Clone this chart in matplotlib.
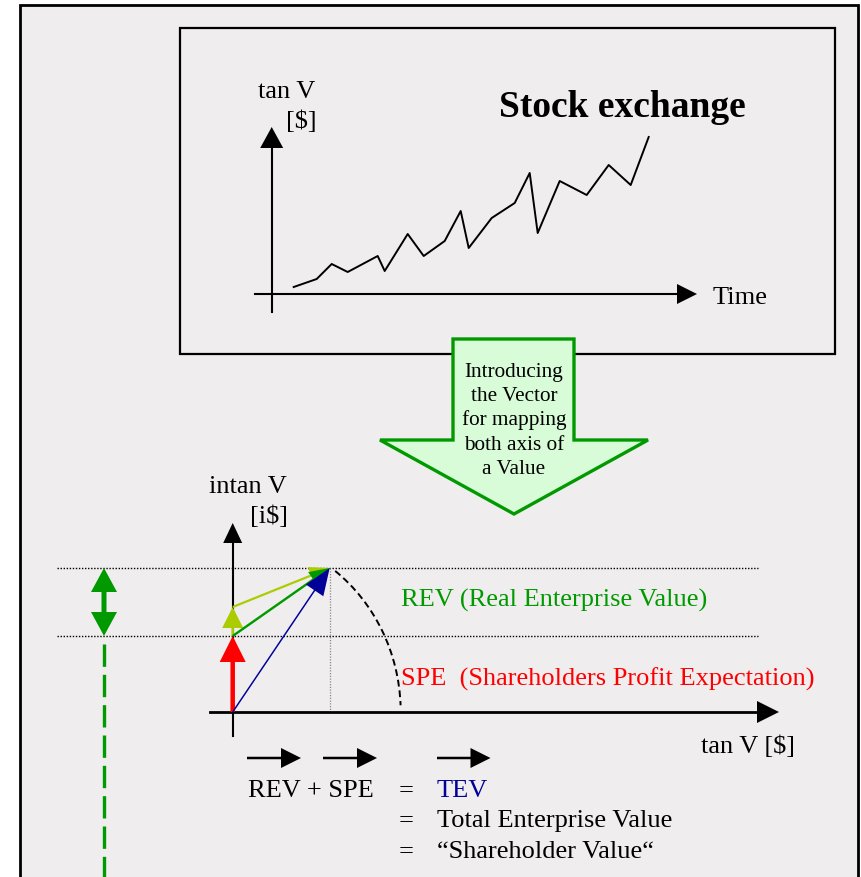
import matplotlib.pyplot as plt
from matplotlib.patches import Rectangle, Polygon, Arc

plt.rcParams['font.family'] = ['Liberation Serif', 'DejaVu Serif']

# stock exchange curve (time steps, tangible value in $)
stock_time = [22, 45, 60, 76, 106, 113, 136, 152, 173, 189, 197, 220, 243, 258, 266, 288, 315, 337, 359, 377]
stock_value = [7, 15, 30, 22, 38, 23, 60, 38, 53, 83, 46, 76, 91, 121, 61, 113, 99, 129, 109, 157]

# value vectors (tangible $, intangible i$)
spe_vec = (0, 76)
rev_up_vec = (0, 29)
rev_vec = (97, 68)
tev_vec = (97, 144)

arrow_text = ["Introducing", "the Vector", "for mapping", "both axis of", "a Value"]
eq_lines = [("REV + SPE", "TEV", "#000099"),
            ("", "Total Enterprise Value", "black"),
            ("", "\u201cShareholder Value\u201c", "black")]

BG = '#efedee'
GREEN = '#009900'
LIME = '#aacc00'
RED = '#ff0000'
BLUE = '#000099'


def arrow(ax, x0, y0, dx, dy, color, width, hw, hl, z=3):
    ax.arrow(x0, y0, dx, dy, width=width, head_width=hw, head_length=hl,
             length_includes_head=True, fc=color, ec='none', zorder=z)


def main():
    fig = plt.figure(figsize=(8.61, 8.77), dpi=100)
    ax = fig.add_axes([0, 0, 1, 1])
    ax.set_xlim(0, 861)
    ax.set_ylim(877, 0)
    ax.axis('off')

    # frames
    ax.add_patch(Rectangle((20, 5), 838, 900, fc=BG, ec='black', lw=2.0, zorder=0))
    ax.add_patch(Rectangle((180, 28), 655, 326, fc=BG, ec='black', lw=1.6, zorder=1))

    # --- upper chart: stock exchange
    ox, oy = 271.7, 294
    ax.plot([ox, ox], [312, 145], color='black', lw=1.5, zorder=2)
    ax.add_patch(Polygon([[ox - 11.5, 148], [ox + 11.5, 148], [ox, 127]], fc='black', ec='none', zorder=2))
    ax.plot([255, 680], [oy, oy], color='black', lw=1.5, zorder=2)
    ax.add_patch(Polygon([[677, oy - 10], [677, oy + 10], [697, oy]], fc='black', ec='none', zorder=2))
    ax.plot([ox + t for t in stock_time], [oy - v for v in stock_value], color='black', lw=1.4, zorder=3)
    ax.text(287, 98, "tan V", fontsize=19, ha='center', va='baseline')
    ax.text(301.5, 128, "[$]", fontsize=19, ha='center', va='baseline')
    ax.text(622, 117, "Stock exchange", fontsize=27, fontweight='bold', ha='center', va='baseline')
    ax.text(713, 304, "Time", fontsize=19, ha='left', va='baseline')

    # --- big green arrow
    big = [[453, 339], [574, 339], [574, 440], [648, 440], [514, 514], [380, 440], [453, 440]]
    ax.add_patch(Polygon(big, closed=True, fc='#d8fcd8', ec=GREEN, lw=2.4, joinstyle='miter', zorder=4))
    for i, line in enumerate(arrow_text):
        ax.text(514, 376.7 + i * 24.4, line, fontsize=15.3, ha='center', va='baseline', zorder=5)

    # --- lower chart: value vectors
    X0, Y0 = 232.7, 712
    top_y = Y0 - tev_vec[1]
    mid_y = Y0 - spe_vec[1]
    lime_y = mid_y - rev_up_vec[1]
    dot = (0, (1, 1.2))
    ax.plot([57, 758], [top_y, top_y], color='black', lw=1.0, ls=dot, zorder=1)
    ax.plot([57, 758], [mid_y, mid_y], color='black', lw=1.0, ls=dot, zorder=1)
    ax.plot([X0 + tev_vec[0]] * 2, [top_y, Y0], color='#888888', lw=0.9, ls=dot, zorder=1)

    # axes
    ax.plot([X0, X0], [736, 540], color='black', lw=1.5, zorder=2)
    ax.add_patch(Polygon([[X0 - 9.5, 543], [X0 + 9.5, 543], [X0, 523]], fc='black', ec='none', zorder=2))
    ax.plot([210, 760], [Y0, Y0], color='black', lw=2.0, zorder=2)
    ax.add_patch(Polygon([[757, Y0 - 11], [757, Y0 + 11], [779, Y0]], fc='black', ec='none', zorder=2))

    # dashed arc
    ax.add_patch(Arc((X0, Y0), 2 * 168, 2 * 178, theta1=-54, theta2=-2.3,
                     color='black', lw=1.4, ls=(0, (3.5, 2)), zorder=2))

    # vectors
    arrow(ax, X0, Y0, 0, -spe_vec[1], RED, 4.5, 26, 26, z=4)
    arrow(ax, X0, mid_y, 0, -rev_up_vec[1], LIME, 2.5, 21, 21, z=4)
    arrow(ax, X0, lime_y, rev_vec[0], top_y - lime_y, LIME, 2.2, 18, 20, z=5)
    arrow(ax, X0, mid_y, rev_vec[0], -rev_vec[1], GREEN, 2.4, 18, 20, z=6)
    arrow(ax, X0, Y0, tev_vec[0], -tev_vec[1], BLUE, 1.5, 21, 27, z=7)

    # green double arrow and dashed line
    cy = (top_y + mid_y) / 2
    arrow(ax, 104, cy, 0, top_y - cy, GREEN, 5, 26, 24, z=3)
    arrow(ax, 104, cy, 0, mid_y - cy, GREEN, 5, 26, 24, z=3)
    ax.plot([104, 104], [644, 880], color=GREEN, lw=2.4, ls=(0, (6.7, 2.4)), zorder=2)

    # labels
    ax.text(248, 493.3, "intan V", fontsize=19, ha='center', va='baseline')
    ax.text(269, 523, "[i$]", fontsize=19, ha='center', va='baseline')
    ax.text(401, 607, "REV (Real Enterprise Value)", fontsize=19, color=GREEN, ha='left', va='baseline')
    ax.text(401, 686, "SPE  (Shareholders Profit Expectation)", fontsize=19, color=RED, ha='left', va='baseline')
    ax.text(701, 753, "tan V [$]", fontsize=19, ha='left', va='baseline')

    # vector equation
    for x0, x1 in [(247, 301), (323, 377), (437, 490.5)]:
        arrow(ax, x0, 758, x1 - x0, 0, 'black', 2.5, 20, 20, z=3)
    for i, (left, right, col) in enumerate(eq_lines):
        yb = 796.7 + i * 30.8
        if left:
            ax.text(248, yb, left, fontsize=19, ha='left', va='baseline')
        ax.text(406, yb, "=", fontsize=19, ha='center', va='baseline')
        ax.text(437, yb, right, fontsize=19, color=col, ha='left', va='baseline')

    fig.savefig('out.png', dpi=100, facecolor='white')


if __name__ == "__main__":
    main()
